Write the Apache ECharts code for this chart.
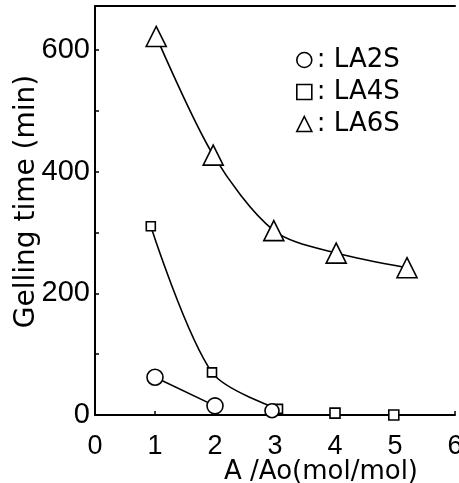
<!DOCTYPE html>
<html>
<head>
<meta charset="utf-8">
<script src="https://cdn.jsdelivr.net/npm/echarts@6/dist/echarts.min.js"></script>
<style>
html,body{margin:0;padding:0;background:#fff;}
#chart{width:459px;height:483px;}
</style>
</head>
<body>
<div id="chart"></div>
<script>
// ---- data ----
var seriesNames = ['LA2S', 'LA4S', 'LA6S'];
var la2sCurve = [[1.0, 62], [2.0, 15]];
var la2sExtra = [[2.95, 7]];
var la4sCurve = [[0.93, 310], [1.95, 70], [3.05, 10]];
var la4sExtra = [[4.0, 3], [4.98, 0]];
var la6sCurve = [[1.02, 622], [1.97, 427], [2.98, 303], [4.02, 266], [5.2, 242]];
var xTickValues = [0, 1, 2, 3, 4, 5, 6];
var yLabelValues = [0, 200, 400, 600];
var yTickValues = [0, 100, 200, 300, 400, 500, 600];

var FONT = 'DejaVu Sans';
var NUMFONT = 'Liberation Sans';
var mk = {color: '#fff', borderColor: '#000', borderWidth: 1.6, opacity: 1};
var ln = {color: '#000', width: 1.6};

var chart = echarts.init(document.getElementById('chart'), null, {renderer: 'canvas'});
chart.setOption({
  animation: false,
  backgroundColor: '#fff',
  textStyle: {fontFamily: FONT, color: '#000'},
  grid: {left: 95, right: 4, top: 6, bottom: 68, containLabel: false, outerBoundsMode: 'none'},
  legend: {
    orient: 'vertical', left: 291, top: 42, itemWidth: 15, itemHeight: 15, itemGap: 6,
    data: [
      {name: 'LA2S', icon: 'circle'},
      {name: 'LA4S', icon: 'rect'},
      {name: 'LA6S', icon: 'triangle'}
    ],
    itemStyle: {color: '#fff', borderColor: '#000', borderWidth: 1.6},
    textStyle: {fontFamily: FONT, fontSize: 26, color: '#000'},
    formatter: function (n) { return ': ' + n; }
  },
  xAxis: [{
    type: 'value', min: 0, max: 6, interval: 1,
    name: 'A /Ao(mol/mol)', nameLocation: 'middle', nameGap: 44, nameMoveOverlap: false,
    nameTextStyle: {fontFamily: FONT, fontSize: 26, color: '#000', padding: [0, 0, 0, 92]},
    axisLine: {show: true, lineStyle: {color: '#000', width: 2}},
    axisTick: {show: true, inside: true, length: 4, lineStyle: {color: '#000', width: 1.5}},
    axisLabel: {show: true, fontFamily: NUMFONT, fontSize: 27, color: '#000', margin: 18,
      customValues: xTickValues},
    splitLine: {show: false}
  }, {
    type: 'value', min: 0, max: 6, position: 'top',
    axisLine: {show: true, lineStyle: {color: '#000', width: 2}},
    axisTick: {show: false}, axisLabel: {show: false}, splitLine: {show: false}
  }],
  yAxis: {
    type: 'value', min: 0, max: 672,
    name: 'Gelling time (min)', nameLocation: 'middle', nameGap: 54, nameRotate: 90, nameMoveOverlap: false,
    nameTextStyle: {fontFamily: FONT, fontSize: 28, color: '#000', padding: [0, 0, 0, 18]},
    axisLine: {show: true, lineStyle: {color: '#000', width: 2}},
    axisTick: {show: true, inside: true, length: 4, lineStyle: {color: '#000', width: 1.5},
      customValues: yTickValues},
    axisLabel: {show: true, fontFamily: NUMFONT, fontSize: 29, color: '#000', margin: 5,
      customValues: yLabelValues},
    splitLine: {show: false}
  },
  series: [
    {name: 'LA2S', type: 'line', smooth: 0.3, data: la2sCurve, symbol: 'circle', symbolSize: 16,
      lineStyle: ln, itemStyle: mk, z: 3},
    {name: 'LA2S', type: 'scatter', data: la2sExtra, symbol: 'circle', symbolSize: 14, itemStyle: mk, z: 4},
    {name: 'LA4S', type: 'line', smooth: 0.3, data: la4sCurve, symbol: 'rect', symbolSize: 9,
      lineStyle: ln, itemStyle: mk, z: 3},
    {name: 'LA4S', type: 'scatter', data: la4sExtra, symbol: 'rect', symbolSize: 10, itemStyle: mk, z: 5},
    {name: 'LA6S', type: 'line', smooth: 0.3, data: la6sCurve, symbol: 'triangle', symbolSize: 20,
      lineStyle: ln, itemStyle: mk, z: 3}
  ]
});
</script>
</body>
</html>
